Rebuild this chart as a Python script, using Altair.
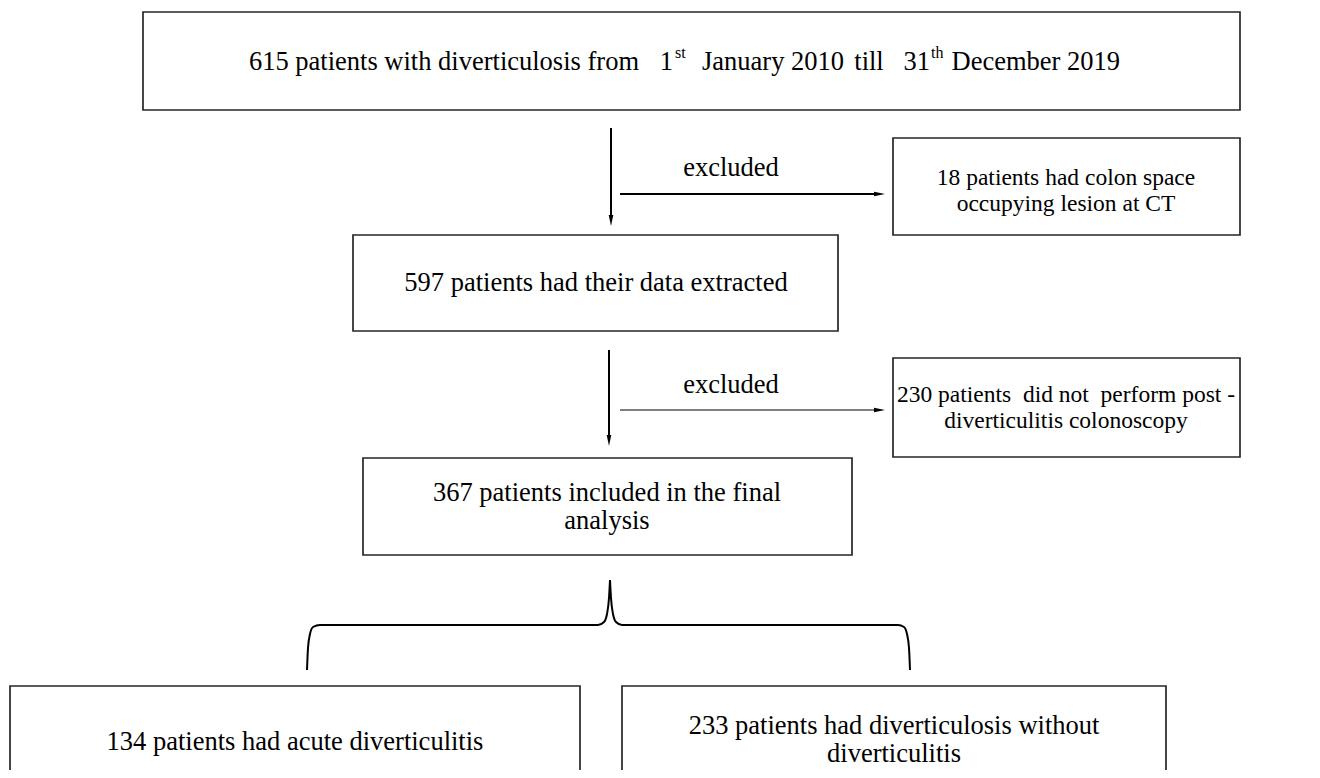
import altair as alt
import pandas as pd

# ---------------- layout data (page pixel coordinates) ----------------
box_id = ["source", "excl_ct", "extracted", "excl_colo", "final", "acute", "without"]
box_x0 = [143, 893, 353, 893, 363, 10, 622]
box_x1 = [1240, 1240, 838, 1240, 852, 580, 1166]
box_y0 = [12, 138, 235, 358, 458, 686, 686]
box_y1 = [110, 235, 331, 457, 555, 800, 800]

NB = "\u00a0"

# centred text lines (main size)
ctext_label = [
    "excluded",
    "597 patients had their data extracted",
    "excluded",
    "367 patients included in the final",
    "analysis",
    "134 patients had acute diverticulitis",
    "233 patients had diverticulosis without",
    "diverticulitis",
    "till",
]
ctext_x = [731, 596, 731, 607, 607, 295, 894, 894, 869]
ctext_y = [168, 283, 385, 493, 521, 742, 726, 754, 62]

# centred text lines in the exclusion boxes (smaller size)
stext_label = [
    "18 patients had colon space",
    "occupying lesion at CT",
    "230 patients" + NB + " did not" + NB + " perform post" + NB + "-",
    "diverticulitis colonoscopy",
]
stext_x = [1066, 1066, 1066, 1066]
stext_y = [178, 204, 395, 421]

# title line pieces anchored by their right edge
rtext_label = ["615 patients with diverticulosis from", "1", "31", "December 2019"]
rtext_x = [639, 673, 930, 1120]
rtext_y = [62, 62, 62, 62]

# title line pieces anchored by their left edge
ltext_label = ["January 2010"]
ltext_x = [702]
ltext_y = [62]

# superscripts
sup_label = ["st", "th"]
sup_x = [675, 931]
sup_y = [62, 62]

# arrows: shafts
shaft_x = [611, 620, 609, 620]
shaft_x2 = [611, 878, 609, 878]
shaft_y = [128, 194, 350, 410]
shaft_y2 = [219, 194, 439, 410]
shaft_w = [2, 2, 2, 1]

# arrow heads
head_down_x = [611, 609]
head_down_y = [220.5, 440.5]
head_right_x = [879.5, 879.5]
head_right_y = [194, 410]

# curly brace
brace_part = ["L"] * 10 + ["R"] * 10
brace_x = [307, 308, 310, 313, 320, 598, 604, 607, 609, 610,
           610, 611, 613, 616, 622, 898, 904, 907, 909, 910]
brace_y = [670, 648, 634, 627, 625, 625, 622, 614, 598, 580,
           580, 598, 614, 622, 625, 625, 627, 634, 648, 670]

# ---------------- chart ----------------
W, H = 1304, 762
xs = alt.Scale(domain=[8, 8 + W], nice=False, zero=False)
ys = alt.Scale(domain=[8, 8 + H], nice=False, zero=False, reverse=True)
FONT = "Liberation Serif"
FS = 26.5
FS_SMALL = 23.5

boxes = pd.DataFrame({"id": box_id, "x0": box_x0, "x1": box_x1, "y0": box_y0, "y1": box_y1})
rects = alt.Chart(boxes).mark_rect(fill="white", stroke="#262626", strokeWidth=1.7, clip=True).encode(
    x=alt.X("x0:Q", scale=xs, axis=None), x2="x1:Q",
    y=alt.Y("y0:Q", scale=ys, axis=None), y2="y1:Q",
)


def text_layer(lbl, xv, yv, align, size=FS, baseline="middle"):
    df = pd.DataFrame({"label": lbl, "x": xv, "y": yv})
    return alt.Chart(df).mark_text(
        font=FONT, fontSize=size, color="black", align=align, baseline=baseline
    ).encode(
        x=alt.X("x:Q", scale=xs, axis=None),
        y=alt.Y("y:Q", scale=ys, axis=None),
        text="label:N",
    )


ctexts = text_layer(ctext_label, ctext_x, ctext_y, "center")
stexts = text_layer(stext_label, stext_x, stext_y, "center", size=FS_SMALL)
rtexts = text_layer(rtext_label, rtext_x, rtext_y, "right")
ltexts = text_layer(ltext_label, ltext_x, ltext_y, "left")
sups = text_layer(sup_label, sup_x, [y - 9 for y in sup_y], "left", size=16)

shafts = pd.DataFrame({"x": shaft_x, "x2": shaft_x2, "y": shaft_y, "y2": shaft_y2, "w": shaft_w})
shaft_layer = alt.Chart(shafts).mark_rule(color="black").encode(
    x=alt.X("x:Q", scale=xs, axis=None), x2="x2:Q",
    y=alt.Y("y:Q", scale=ys, axis=None), y2="y2:Q",
    strokeWidth=alt.StrokeWidth("w:Q", scale=None, legend=None),
)

hd = pd.DataFrame({"x": head_down_x, "y": head_down_y})
head_down = alt.Chart(hd).mark_point(
    shape="M-0.42,-1L0.42,-1L0,1Z", filled=True, size=121, color="black", opacity=1
).encode(x=alt.X("x:Q", scale=xs, axis=None), y=alt.Y("y:Q", scale=ys, axis=None))

hr = pd.DataFrame({"x": head_right_x, "y": head_right_y})
head_right = alt.Chart(hr).mark_point(
    shape="M-1,-0.42L1,0L-1,0.42Z", filled=True, size=121, color="black", opacity=1
).encode(x=alt.X("x:Q", scale=xs, axis=None), y=alt.Y("y:Q", scale=ys, axis=None))

brace = pd.DataFrame({"part": brace_part, "x": brace_x, "y": brace_y,
                      "o": list(range(len(brace_x)))})
brace_layer = alt.Chart(brace).mark_line(color="black", strokeWidth=2, interpolate="monotone").encode(
    x=alt.X("x:Q", scale=xs, axis=None),
    y=alt.Y("y:Q", scale=ys, axis=None),
    detail="part:N",
    order="o:Q",
)

chart = alt.layer(
    rects, shaft_layer, head_down, head_right, brace_layer,
    ctexts, stexts, rtexts, ltexts, sups
).properties(
    width=W, height=H, padding=0, autosize=alt.AutoSizeParams(type="none"), background="white"
).configure_view(strokeWidth=0)

chart.save("out.html", embed_options={"renderer": "svg", "actions": False})
